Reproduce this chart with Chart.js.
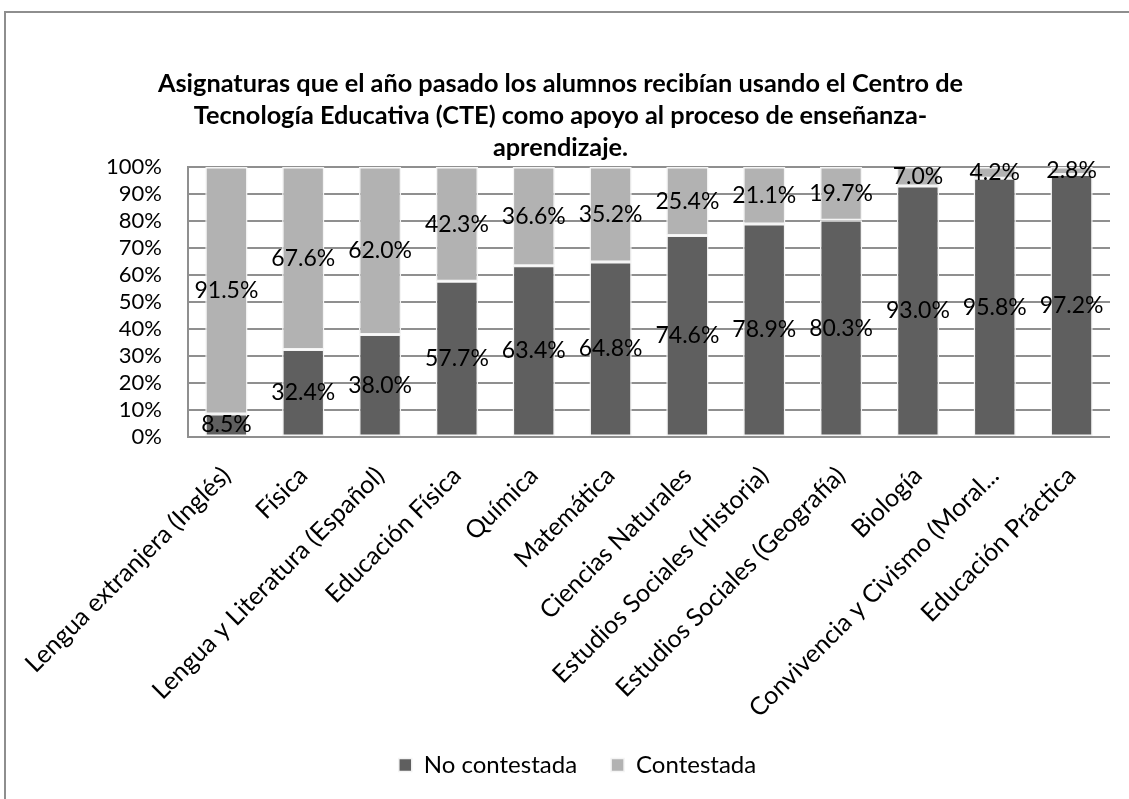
<!DOCTYPE html>
<html>
<head>
<meta charset="utf-8">
<script src="https://cdn.jsdelivr.net/npm/chart.js@4"></script>
<style>
  html, body { margin: 0; padding: 0; background: #fff; overflow: hidden; }
  #frame { position: absolute; left: 4px; top: 11px; width: 3000px; height: 3000px;
           border-left: 2px solid #8e8e8e; border-top: 2px solid #8e8e8e; }
  #wrap { position: absolute; left: 0; top: 0; width: 1129px; height: 799px; }
</style>
</head>
<body>
<div id="frame"></div>
<div id="wrap"><canvas id="c" width="1129" height="799"></canvas></div>
<script>
const titleLines = [
  'Asignaturas que el año pasado los alumnos recibían usando el Centro de',
  'Tecnología Educativa (CTE) como apoyo al proceso de enseñanza-',
  'aprendizaje.'
];
const categories = [
  'Lengua extranjera (Inglés)', 'Física', 'Lengua y Literatura (Español)',
  'Educación Física', 'Química', 'Matemática', 'Ciencias Naturales',
  'Estudios Sociales (Historia)', 'Estudios Sociales (Geografía)', 'Biología',
  'Convivencia y Civismo (Moral...', 'Educación Práctica'
];
const seriesNames = ['No contestada', 'Contestada'];
const noContestada = [8.5, 32.4, 38.0, 57.7, 63.4, 64.8, 74.6, 78.9, 80.3, 93.0, 95.8, 97.2];
const contestada = [91.5, 67.6, 62.0, 42.3, 36.6, 35.2, 25.4, 21.1, 19.7, 7.0, 4.2, 2.8];
const yTickValues = [0, 10, 20, 30, 40, 50, 60, 70, 80, 90, 100];

const FONT = 'Lato, "Open Sans", sans-serif';

const labelPlugin = {
  id: 'segLabels',
  afterLayout(chart) {
    // let the rotated category labels extend below the axis box (as in the reference)
    chart.scales.x._computeLabelArea = () => undefined;
    // legend is centred a little to the right of the title in the reference
    chart.legend.left += 17;
    chart.legend.right += 17;
  },
  afterDatasetsDraw(chart) {
    const ctx = chart.ctx;
    ctx.save();
    ctx.font = '23px ' + FONT;
    ctx.fillStyle = '#000';
    ctx.textAlign = 'center';
    ctx.textBaseline = 'middle';
    chart.data.datasets.forEach((ds, di) => {
      const meta = chart.getDatasetMeta(di);
      meta.data.forEach((el, i) => {
        const p = el.getProps(['x', 'y', 'base'], true);
        ctx.fillText(ds.data[i].toFixed(1) + '%', p.x, (p.y + p.base) / 2);
      });
    });
    ctx.restore();
  }
};

new Chart(document.getElementById('c'), {
  type: 'bar',
  data: {
    labels: categories,
    datasets: [
      { label: seriesNames[0], data: noContestada, backgroundColor: '#5f5f5f',
        borderColor: '#f4f4f4', borderWidth: 1.5, borderSkipped: false },
      { label: seriesNames[1], data: contestada, backgroundColor: '#b2b2b2',
        borderColor: '#f4f4f4', borderWidth: 1.5, borderSkipped: false }
    ]
  },
  options: {
    responsive: false,
    animation: false,
    devicePixelRatio: 1,
    categoryPercentage: 1,
    barPercentage: 0.55,
    layout: { padding: { left: 11, right: 19, top: 0, bottom: 12 } },
    plugins: {
      tooltip: { enabled: false },
      title: {
        display: true,
        text: titleLines,
        color: '#000',
        font: { family: FONT, size: 25.3, weight: 'bold', lineHeight: 1.265 },
        padding: { top: 68, bottom: 3 }
      },
      legend: {
        position: 'bottom',
        labels: {
          color: '#000',
          font: { family: FONT, size: 24 },
          boxWidth: 13, boxHeight: 13,
          padding: 34
        }
      }
    },
    scales: {
      x: {
        stacked: true,
        grid: { display: false },
        border: { display: false },
        ticks: {
          color: '#000',
          font: { family: FONT, size: 25 },
          autoSkip: false,
          maxRotation: 45, minRotation: 45,
          padding: 16
        },
        afterFit(scale) { scale.height = 282; }
      },
      y: {
        stacked: true,
        min: 0, max: 100,
        afterBuildTicks(scale) { scale.ticks = yTickValues.map(v => ({ value: v })); },
        grid: { color: '#8f8f8f', lineWidth: 2, drawTicks: false },
        border: { display: true, color: '#8f8f8f', width: 2 },
        ticks: {
          color: '#000',
          font: { family: FONT, size: 22 },
          padding: 26,
          autoSkip: false,
          callback: v => v + '%'
        },
        afterFit(scale) { scale.width = 177; }
      }
    }
  },
  plugins: [labelPlugin]
});
</script>
</body>
</html>
